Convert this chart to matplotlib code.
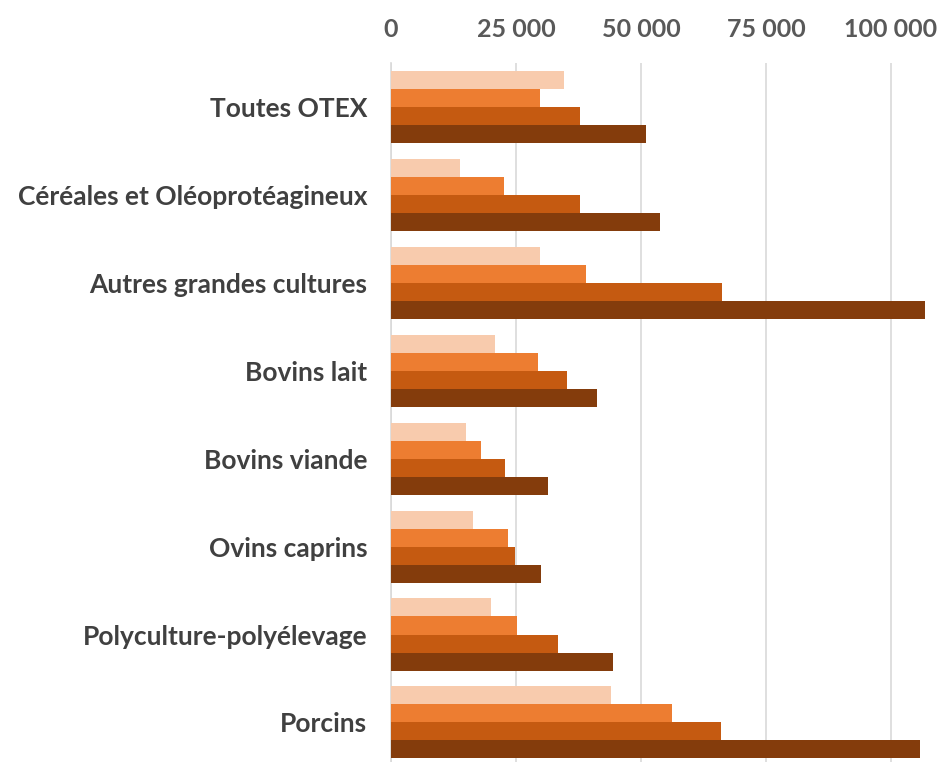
import matplotlib.pyplot as plt
from matplotlib.ticker import FuncFormatter
import numpy as np

categories = ["Toutes OTEX", "Céréales et Oléoprotéagineux", "Autres grandes cultures",
              "Bovins lait", "Bovins viande", "Ovins caprins",
              "Polyculture-polyélevage", "Porcins"]

# four series, from lightest to darkest bar in each group
serie1 = [34600, 13800, 29700, 20700, 14900, 16400, 20000, 43900]
serie2 = [29800, 22600, 38900, 29300, 18000, 23400, 25200, 56100]
serie3 = [37700, 37800, 66100, 35100, 22700, 24800, 33300, 65900]
serie4 = [50900, 53800, 106800, 41100, 31300, 29900, 44300, 105700]

xticks = [0, 25000, 50000, 75000, 100000]
colors = ["#F8CBAD", "#ED7D31", "#C55A11", "#843C0C"]

plt.rcParams['font.family'] = ['Lato', 'DejaVu Sans']

fig = plt.figure(figsize=(9.4, 7.62), dpi=100)
ax = fig.add_axes([391/940, 0, 540/940, 699/762])

y = np.arange(len(categories))
h = 0.205
for i, (vals, c) in enumerate(zip([serie1, serie2, serie3, serie4], colors)):
    ax.barh(y + (i - 1.5) * h, vals, height=h, color=c, zorder=3)

ax.set_xlim(0, 108000)
ax.set_ylim(7.45, -0.5)
ax.set_xticks(xticks)
ax.xaxis.set_major_formatter(FuncFormatter(lambda v, p: f"{int(v):,}".replace(",", " ")))
ax.xaxis.tick_top()
ax.tick_params(axis='x', length=0, pad=16, labelsize=18, labelcolor="#595959")
ax.tick_params(axis='y', length=0, pad=17, labelsize=19, labelcolor="#404040")
for lab in ax.get_xticklabels():
    lab.set_fontweight('bold')
ax.set_yticks(y)
ax.set_yticklabels(categories, fontweight='bold')

ax.grid(axis='x', color="#D9D9D9", linewidth=1.2, zorder=0)
for s in ["top", "right", "bottom"]:
    ax.spines[s].set_visible(False)
ax.spines["left"].set_color("#D9D9D9")
ax.spines["left"].set_linewidth(1.2)

fig.savefig("out.png", dpi=100, facecolor="white")
